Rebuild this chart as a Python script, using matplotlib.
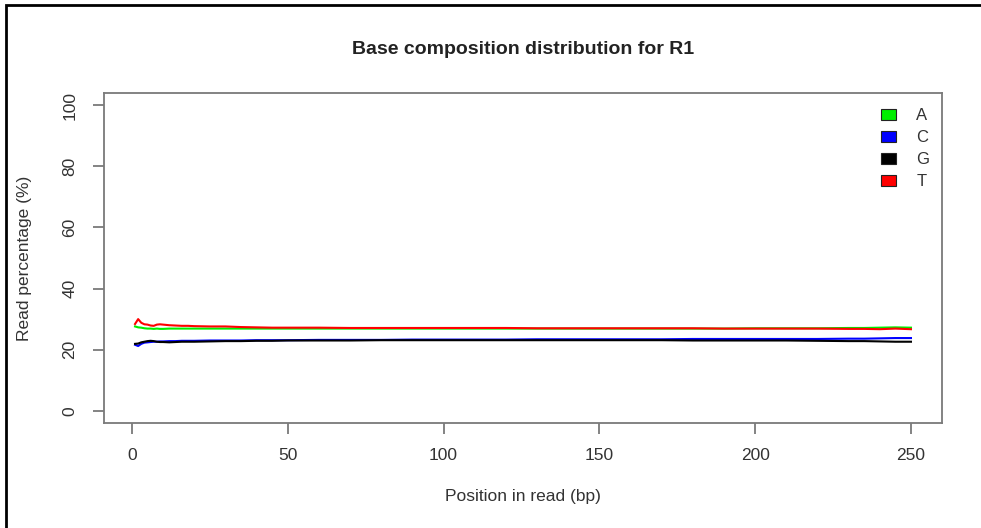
import matplotlib
matplotlib.use("Agg")
import matplotlib.pyplot as plt
from matplotlib.patches import Patch, Rectangle

plt.rcParams['font.family'] = ['Liberation Sans', 'DejaVu Sans']

positions = [1, 2, 3, 4, 5, 6, 7, 8, 9, 10, 12, 14, 16, 18, 20, 25, 30, 35, 40, 45,
             50, 60, 70, 80, 90, 100, 110, 120, 130, 140, 150, 160, 170, 180, 190,
             200, 210, 220, 230, 235, 240, 245, 250]

base_A = [27.6, 27.3, 27.2, 27.0, 26.9, 26.9, 26.8, 26.9, 26.8, 26.8, 26.9, 26.9, 26.9, 26.9, 26.9,
          26.9, 26.9, 26.9, 26.9, 26.9,
          26.9, 26.9, 26.9, 26.9, 26.9, 26.9, 26.9, 26.9, 26.9, 26.9, 26.9, 26.9, 26.9, 26.9, 26.9,
          27.0, 27.0, 27.0, 27.1, 27.1, 27.2, 27.3, 27.2]
base_C = [21.6, 21.2, 21.9, 22.3, 22.4, 22.5, 22.6, 22.6, 22.7, 22.7, 22.8, 22.8, 22.9, 22.9, 22.9,
          23.0, 23.0, 23.0, 23.1, 23.1,
          23.1, 23.2, 23.2, 23.2, 23.3, 23.3, 23.3, 23.3, 23.4, 23.4, 23.4, 23.4, 23.4, 23.5, 23.5,
          23.5, 23.5, 23.5, 23.6, 23.6, 23.7, 23.8, 23.8]
base_G = [21.9, 22.0, 22.4, 22.6, 22.8, 22.9, 22.8, 22.6, 22.5, 22.5, 22.4, 22.5, 22.6, 22.6, 22.6,
          22.7, 22.8, 22.8, 22.9, 22.9,
          23.0, 23.0, 23.0, 23.1, 23.1, 23.1, 23.1, 23.1, 23.1, 23.1, 23.1, 23.1, 23.1, 23.0, 23.0,
          23.0, 23.0, 22.9, 22.8, 22.8, 22.7, 22.6, 22.6]
base_T = [28.4, 30.0, 28.8, 28.3, 28.2, 27.9, 27.8, 28.2, 28.3, 28.2, 28.0, 27.9, 27.8, 27.8, 27.7,
          27.6, 27.6, 27.4, 27.3, 27.2,
          27.2, 27.2, 27.1, 27.1, 27.1, 27.1, 27.1, 27.1, 27.0, 27.0, 27.0, 27.0, 27.0, 27.0, 26.9,
          26.9, 26.9, 26.9, 26.8, 26.8, 26.7, 26.9, 26.7]

labels = ['A', 'C', 'G', 'T']
colors = ['#00ee00', '#0000ff', '#000000', '#ff0000']
series = [base_A, base_C, base_G, base_T]

xticks = [0, 50, 100, 150, 200, 250]
yticks = [0, 20, 40, 60, 80, 100]

fig = plt.figure(figsize=(9.81, 5.28), dpi=100)
ax = fig.add_axes([104/981, 1 - 423/528, (942-104)/981, (423-93)/528])

for vals, c in zip(series, colors):
    ax.plot(positions, vals, color=c, lw=1.5)

ax.set_xlim(-8.96, 259.96)
ax.set_ylim(-4, 104)
ax.set_xticks(xticks)
ax.set_yticks(yticks)
ax.set_yticklabels([str(v) for v in yticks], rotation=90, va='center')

axis_col = '#7a7a7a'
for s in ax.spines.values():
    s.set_color(axis_col)
    s.set_linewidth(1.3)
ax.tick_params(direction='out', length=8, width=1.3, color=axis_col,
               labelsize=12.5, labelcolor='#333333', pad=10)
ax.tick_params(axis='y', pad=11)

ax.set_xlabel('Position in read (bp)', fontsize=12.5, color='#333333', labelpad=19)
ax.set_ylabel('Read percentage (%)', fontsize=12.5, color='#333333', labelpad=22)
ax.set_title('Base composition distribution for R1', fontsize=14, fontweight='bold',
             color='#222222', pad=28)

handles = [Patch(facecolor=c, edgecolor='#222222', lw=0.8) for c in colors]
leg = ax.legend(handles, labels, loc='upper right', frameon=False, fontsize=12,
                handlelength=0.95, handleheight=0.65, handletextpad=1.2, labelspacing=0.42,
                borderaxespad=0.0, bbox_to_anchor=(0.993, 0.975))
for t in leg.get_texts():
    t.set_color('#333333')

# outer frame (left and top edges visible in the screenshot)
fig.patches.append(Rectangle((6/981, -0.1), 1.2, 1.1 - 5/528,
                             transform=fig.transFigure, fill=False,
                             edgecolor='black', lw=2, clip_on=False))

fig.savefig('out.png', dpi=100)
